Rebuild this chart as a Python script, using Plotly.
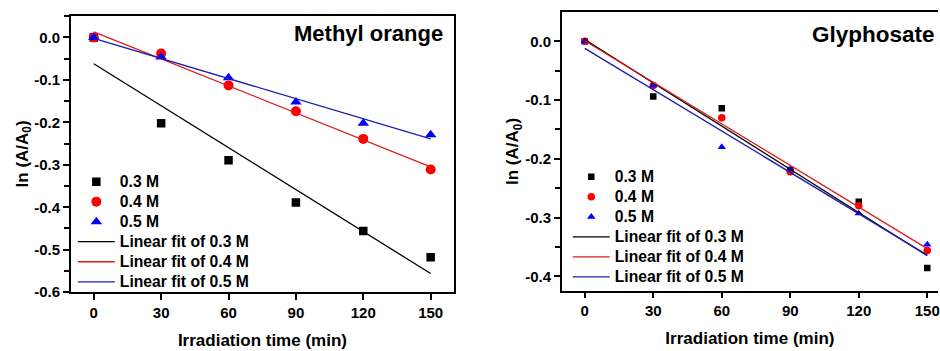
import plotly.graph_objects as go

# ---------------- data ----------------
time_min = [0, 30, 60, 90, 120, 150]

# Methyl orange
mo_03 = [0.0, -0.202, -0.289, -0.389, -0.456, -0.518]
mo_04 = [0.0, -0.038, -0.113, -0.174, -0.239, -0.311]
mo_05 = [0.0, -0.046, -0.095, -0.152, -0.202, -0.229]
# linear-fit end points (x = 0 and x = 150)
fit_x = [0, 150]
mo_fit_03 = [-0.062, -0.556]
mo_fit_04 = [0.013, -0.305]
mo_fit_05 = [-0.002, -0.239]

# Glyphosate
gl_03 = [0.0, -0.094, -0.114, -0.219, -0.273, -0.386]
gl_04 = [0.0, -0.075, -0.130, -0.222, -0.280, -0.356]
gl_05 = [0.0, -0.075, -0.180, -0.218, -0.293, -0.346]
gl_fit_03 = [0.003, -0.365]
gl_fit_04 = [0.001, -0.353]
gl_fit_05 = [-0.012, -0.364]

series_names = ["0.3 M", "0.4 M", "0.5 M"]
fit_names = ["Linear fit of 0.3 M", "Linear fit of 0.4 M", "Linear fit of 0.5 M"]

x_ticks = [0, 30, 60, 90, 120, 150]
x_ticklabels = ["0", "30", "60", "90", "120", "150"]
mo_yticks = [0.0, -0.1, -0.2, -0.3, -0.4, -0.5, -0.6]
mo_yticklabels = ["0.0", "-0.1", "-0.2", "-0.3", "-0.4", "-0.5", "-0.6"]
gl_yticks = [0.0, -0.1, -0.2, -0.3, -0.4]
gl_yticklabels = ["0.0", "-0.1", "-0.2", "-0.3", "-0.4"]

# ---------------- style ----------------
FONT = "Liberation Sans, Arial, sans-serif"
marker_colors = ["#000000", "#ff0000", "#0000ff"]
line_colors = ["#000000", "#dd1c1c", "#1c1cb0"]
symbols = ["square", "circle", "triangle-up"]
mo_sizes = [8.5, 10, 10]
gl_sizes = [6.5, 7.5, 7.5]
LEG_TXT = 15.7   # visible legend text size
LEG_BASE = 13.1  # legend font size that sets the row pitch


def leg_label(t):
    return '<span style="font-size:%spx">%s</span>' % (LEG_TXT, t)


fig = go.Figure()


def add_panel(ys, fits, xa, ya, leg, sizes):
    for y, name, c, s, sz in zip(ys, series_names, marker_colors, symbols, sizes):
        fig.add_trace(go.Scatter(x=time_min, y=y, mode="markers", name=leg_label(name),
                                 marker=dict(symbol=s, color=c, size=sz, line=dict(width=0)),
                                 xaxis=xa, yaxis=ya, legend=leg))
    for f, name, c in zip(fits, fit_names, line_colors):
        fig.add_trace(go.Scatter(x=fit_x, y=f, mode="lines", name=leg_label(name),
                                 line=dict(color=c, width=1.3),
                                 xaxis=xa, yaxis=ya, legend=leg))


add_panel([mo_03, mo_04, mo_05], [mo_fit_03, mo_fit_04, mo_fit_05], "x", "y", "legend", mo_sizes)
add_panel([gl_03, gl_04, gl_05], [gl_fit_03, gl_fit_04, gl_fit_05], "x2", "y2", "legend2", gl_sizes)

W, H = 940, 351
tickfont = dict(family=FONT, size=15, color="black", weight="bold")
titlefont = dict(family=FONT, size=17, color="black", weight="bold")


def xaxis_cfg(domain, rng, anchor, mirror):
    return dict(domain=domain, range=rng, anchor=anchor, tickvals=x_ticks, ticktext=x_ticklabels,
                showline=True, linecolor="black", linewidth=1.5, mirror=mirror,
                ticks="outside", ticklen=6, tickwidth=1.5, tickcolor="black",
                ticklabeloverflow="allow",
                showgrid=False, zeroline=False, tickfont=tickfont,
                title=dict(text="Irradiation time (min)", font=titlefont, standoff=14))


def yaxis_cfg(domain, rng, anchor, tv, tt, mirror, standoff):
    return dict(domain=domain, range=rng, anchor=anchor, tickvals=tv, ticktext=tt,
                showline=True, linecolor="black", linewidth=1.5, mirror=mirror,
                ticks="outside", ticklen=6, tickwidth=1.5, tickcolor="black",
                minor=dict(ticks="outside", ticklen=5, tickwidth=1.5, tickcolor="black", dtick=0.05,
                           tick0=0, showgrid=False),
                showgrid=False, zeroline=False, tickfont=tickfont,
                title=dict(text="ln (A/A<sub>0</sub>)", font=titlefont, standoff=standoff))


legfont = dict(family=FONT, size=LEG_BASE, color="black", weight="bold")

fig.update_layout(
    width=W, height=H, margin=dict(l=0, r=0, t=0, b=0),
    paper_bgcolor="white", plot_bgcolor="white",
    font=dict(family=FONT, color="black"),
    xaxis=xaxis_cfg([71 / W, 455 / W], [-10.2, 160.4], "y", True),
    yaxis=yaxis_cfg([1 - 299 / H, 1 - 16 / H], [-0.6, 0.0513], "x", mo_yticks, mo_yticklabels, True, 1),
    xaxis2=xaxis_cfg([563 / W, 1.0], [-10.05, 154.7], "y2", True),
    yaxis2=yaxis_cfg([1 - 297.3 / H, 1 - 12.7 / H], [-0.4243, 0.0493], "x2", gl_yticks, gl_yticklabels,
                     False, 2),
    legend=dict(x=73 / W, y=1 - 170.5 / H, xanchor="left", yanchor="top", bgcolor="rgba(0,0,0,0)",
                font=legfont, itemwidth=37, tracegroupgap=0),
    legend2=dict(x=569 / W, y=1 - 165.5 / H, xanchor="left", yanchor="top", bgcolor="rgba(0,0,0,0)",
                 font=legfont, itemwidth=37, tracegroupgap=0),
    annotations=[
        dict(text="Methyl orange", x=446 / W, y=1 - 34 / H, xref="paper", yref="paper",
             xanchor="right", yanchor="middle", showarrow=False,
             font=dict(family=FONT, size=22, color="black", weight="bold")),
        dict(text="Glyphosate", x=939 / W, y=1 - 35 / H, xref="paper", yref="paper",
             xanchor="right", yanchor="middle", showarrow=False,
             font=dict(family=FONT, size=22.5, color="black", weight="bold")),
    ],
)

fig.write_html("out.html")
